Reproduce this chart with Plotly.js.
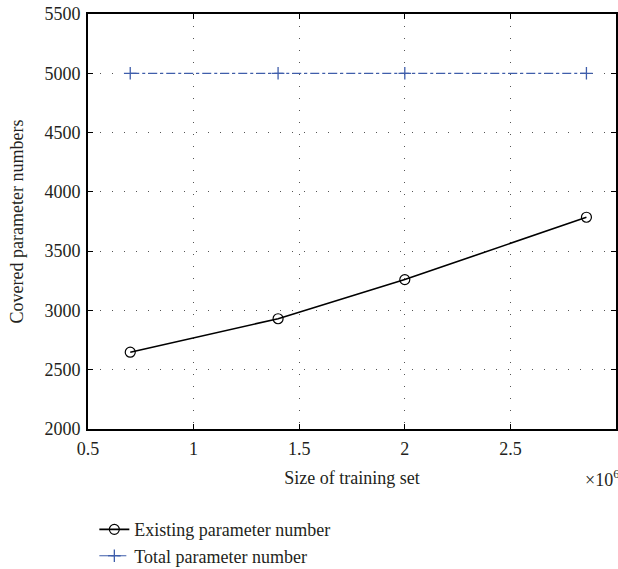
<!DOCTYPE html>
<html>
<head>
<meta charset="utf-8">
<script src="https://cdn.plot.ly/plotly-3.0.1.min.js"></script>
<style>html,body{margin:0;padding:0;background:#fff;}#chart{width:618px;height:569px;}</style>
</head>
<body>
<div id="chart"></div>
<script>
const trainingSize = [700000, 1400000, 2000000, 2860000];
const existingParams = [2648, 2930, 3260, 3786];
const totalParams = [5000, 5000, 5000, 5000];
const seriesNames = ["Existing parameter number", "Total parameter number"];
const xTickVals = [500000, 1000000, 1500000, 2000000, 2500000, 3000000];
const xTickText = ["0.5", "1", "1.5", "2", "2.5", "3"];
const yTickVals = [2000, 2500, 3000, 3500, 4000, 4500, 5000, 5500];

const FONT = "Liberation Serif";
const TXT = "#231f20";
const FS = 18;

const traces = [
  {
    x: trainingSize, y: existingParams, name: seriesNames[0],
    mode: "lines+markers", type: "scatter",
    line: {color: "#000", width: 1.6},
    marker: {symbol: "circle-open", size: 10, color: "#000", line: {width: 1.2, color: "#000"}}
  },
  {
    x: trainingSize, y: totalParams, name: seriesNames[1],
    mode: "lines+markers", type: "scatter",
    line: {color: "#3f5eab", width: 1.2, dash: "dashdot"},
    marker: {symbol: "cross-thin-open", size: 9, color: "#3f5eab", line: {width: 1.3, color: "#3f5eab"}}
  }
];

const axisCommon = {
  showline: true, linecolor: "#000", linewidth: 2, mirror: "ticks",
  ticks: "inside", ticklen: 5, tickwidth: 1, tickcolor: "#000",
  showgrid: true, gridcolor: "#555", gridwidth: 1, griddash: "1px,11px",
  zeroline: false, automargin: false,
  tickfont: {family: FONT, size: FS, color: TXT}
};

const layout = {
  width: 618, height: 569,
  margin: {l: 88, r: 2, t: 14, b: 140, autoexpand: false},
  paper_bgcolor: "#fff", plot_bgcolor: "#fff",
  showlegend: true,
  font: {family: FONT, size: FS, color: TXT},
  xaxis: Object.assign({}, axisCommon, {
    range: [500000, 3000000], tickmode: "array", tickvals: xTickVals, ticktext: xTickText,
    ticklabelstandoff: 2,
    title: {text: "Size of training set", font: {family: FONT, size: FS, color: TXT}, standoff: 14}
  }),
  yaxis: Object.assign({}, axisCommon, {
    range: [2000, 5500], tickmode: "array", tickvals: yTickVals,
    ticklabelstandoff: 2,
    title: {text: "Covered parameter numbers", font: {family: FONT, size: FS, color: TXT}, standoff: 16}
  }),
  legend: {
    x: 0.012, xanchor: "left", y: -0.198, yanchor: "top",
    font: {family: FONT, size: FS, color: TXT},
    bgcolor: "rgba(0,0,0,0)", tracegroupgap: 0
  },
  annotations: [{
    xref: "paper", yref: "paper", x: 1.01, y: -0.12, xanchor: "right", yanchor: "middle",
    text: "×10<sup>6</sup>", showarrow: false, font: {family: FONT, size: FS, color: TXT}
  }]
};

Plotly.newPlot("chart", traces, layout, {staticPlot: true, displayModeBar: false});
</script>
</body>
</html>
